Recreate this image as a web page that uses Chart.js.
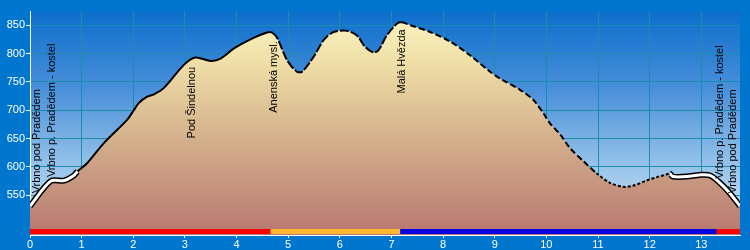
<!DOCTYPE html>
<html>
<head>
<meta charset="utf-8">
<script src="https://cdn.jsdelivr.net/npm/chart.js@4/dist/chart.umd.min.js"></script>
<style>
html,body{margin:0;padding:0;background:#0076ce;}
#c{display:block;}
</style>
</head>
<body>
<canvas id="c" width="750" height="250"></canvas>
<script>
// ---- data ----
const distanceKm = [0, 0.4, 0.66, 0.85, 0.92, 1.11, 1.43, 1.88, 2.01, 2.11, 2.27, 2.4, 2.59, 2.98, 3.2, 3.5, 3.69, 3.95, 4.27, 4.59, 4.69, 4.79, 4.98, 5.17, 5.27, 5.49, 5.69, 5.88, 6.14, 6.33, 6.49, 6.65, 6.75, 6.91, 7.11, 7.2, 7.36, 7.75, 8.14, 8.52, 8.91, 9.1, 9.49, 9.75, 9.94, 10.07, 10.27, 10.46, 10.72, 10.97, 11.23, 11.49, 11.68, 11.94, 12.14, 12.3, 12.39, 12.45, 12.72, 12.97, 13.17, 13.36, 13.55, 13.75];
const elevationM = [531, 575, 576, 585, 592, 607, 642, 683, 700, 713, 724, 728, 739, 780, 793, 787, 791, 809, 825, 837, 837, 827, 788, 768, 768, 794, 824, 838, 840, 832, 812, 802, 806, 832, 853, 855, 850, 838, 821, 797, 768, 756, 736, 718, 695, 677, 657, 633, 610, 589, 572, 565, 567, 576, 582, 586, 588, 583, 583, 586, 585, 572, 554, 531];

// path line style sections (start km, style)
const styleStartKm = [0, 0.92, 4.66, 7.17, 10.97, 12.36];
const styleName = ['town', 'solid', 'longdash', 'dash', 'dot', 'town'];

// coloured route bar sections
const barFromKm = [0, 4.66, 7.17, 13.3];
const barToKm = [4.66, 7.17, 13.3, 13.75];
const barColor = ['#ff0000', '#ffb830', '#0000e0', '#ff0000'];

// waypoint labels
const placeNames = ['Vrbno pod Pradědem', 'Vrbno p. Pradědem - kostel', 'Pod Šindelnou', 'Anenská mysl.', 'Malá Hvězda', 'Vrbno p. Pradědem - kostel', 'Vrbno pod Pradědem'];
const placeKm = [0.14, 0.42, 3.13, 4.72, 7.2, 13.36, 13.62];

// axis ticks
const xTicks = [0,1,2,3,4,5,6,7,8,9,10,11,12,13];
const yTicks = [550,600,650,700,750,800,850];
const xMin = 0, xMax = 13.75, yMin = 480, yMax = 875;

// ---- helpers ----
const points = distanceKm.map((d, i) => ({x: d, y: elevationM[i]}));
function styleAt(km){
  let s = styleName[0];
  for (let i = 0; i < styleStartKm.length; i++) if (km >= styleStartKm[i] - 1e-9) s = styleName[i];
  return s;
}
function elevAt(km){
  for (let i = 0; i < distanceKm.length - 1; i++) {
    if (km >= distanceKm[i] && km <= distanceKm[i+1]) {
      const t = (km - distanceKm[i]) / (distanceKm[i+1] - distanceKm[i]);
      return elevationM[i] + t * (elevationM[i+1] - elevationM[i]);
    }
  }
  return elevationM[elevationM.length-1];
}
const dashes = {town: [], solid: [], longdash: [9, 2], dash: [6, 3], dot: [3, 2]};

const bgPlugin = {
  id: 'bg',
  beforeDraw(chart){
    const c = chart.ctx, a = chart.chartArea;
    c.save();
    c.fillStyle = '#0076ce';
    c.fillRect(0, 0, chart.width, chart.height);
    const g = c.createLinearGradient(0, a.top, 0, a.bottom);
    g.addColorStop(0, '#0c6ecb');
    g.addColorStop(0.35, '#4a90da');
    g.addColorStop(0.7, '#98c4ea');
    g.addColorStop(1, '#d6e8f6');
    c.fillStyle = g;
    c.fillRect(a.left, a.top, a.right - a.left, a.bottom - a.top);
    c.restore();
  }
};

const overlayPlugin = {
  id: 'overlay',
  afterDatasetsDraw(chart){
    const c = chart.ctx, a = chart.chartArea;
    const xs = chart.scales.x, ys = chart.scales.y;
    c.save();
    // route bar
    for (let i = 0; i < barFromKm.length; i++) {
      const x0 = xs.getPixelForValue(barFromKm[i]);
      const x1 = xs.getPixelForValue(barToKm[i]);
      c.fillStyle = barColor[i];
      c.fillRect(x0, a.bottom - 6, x1 - x0, 5);
    }
    // labels
    c.font = '11px "Liberation Sans", Arial, sans-serif';
    c.fillStyle = '#000';
    c.textBaseline = 'middle';
    for (let i = 0; i < placeNames.length; i++) {
      const x = xs.getPixelForValue(placeKm[i]);
      const yp = ys.getPixelForValue(elevAt(placeKm[i]));
      const w = c.measureText(placeNames[i]).width;
      c.save();
      if (yp - 4 - w >= a.top + 2) {
        c.translate(x, yp - 4);
        c.rotate(-Math.PI / 2);
        c.textAlign = 'left';
      } else {
        c.translate(x, yp + 7);
        c.rotate(-Math.PI / 2);
        c.textAlign = 'right';
      }
      c.fillText(placeNames[i], 0, 0);
      c.restore();
    }
    c.restore();
  }
};

new Chart(document.getElementById('c'), {
  type: 'line',
  data: {
    datasets: [
      {
        data: points,
        order: 1,
        fill: false,
        pointRadius: 0,
        tension: 0.3,
        borderColor: '#fff',
        borderWidth: 3,
        segment: {
          borderColor: (ctx) => styleAt(ctx.p0.parsed.x) === 'town' ? '#fff' : 'rgba(0,0,0,0)'
        }
      },
      {
        data: points,
        order: 2,
        fill: false,
        pointRadius: 0,
        tension: 0.3,
        borderColor: '#000',
        borderWidth: 2,
        segment: {
          borderWidth: (ctx) => styleAt(ctx.p0.parsed.x) === 'town' ? 6 : 2,
          borderDash: (ctx) => dashes[styleAt(ctx.p0.parsed.x)]
        }
      },
      {
        data: points,
        order: 3,
        fill: 'start',
        borderWidth: 0,
        pointRadius: 0,
        tension: 0.3,
        backgroundColor: (ctx) => {
          const a = ctx.chart.chartArea;
          if (!a) return '#e0c8a0';
          const g = ctx.chart.ctx.createLinearGradient(0, a.top, 0, a.bottom);
          g.addColorStop(0, '#fbf6c4');
          g.addColorStop(0.22, '#f0e0a8');
          g.addColorStop(0.51, '#d8b890');
          g.addColorStop(0.75, '#c89880');
          g.addColorStop(1, '#b87870');
          return g;
        }
      }
    ]
  },
  options: {
    responsive: false,
    animation: false,
    devicePixelRatio: 1,
    layout: {padding: {top: 11, right: 10, left: 0, bottom: 0}},
    plugins: {legend: {display: false}, tooltip: {enabled: false}},
    scales: {
      x: {
        type: 'linear',
        min: xMin, max: xMax,
        afterFit: (s) => { s.height = 15; },
        afterBuildTicks: (s) => { s.ticks = xTicks.map(v => ({value: v})); },
        grid: {color: '#1a8cb0', tickColor: '#fff', tickLength: 3, lineWidth: 1},
        border: {color: '#fff', width: 1},
        ticks: {color: '#fff', padding: 0, maxRotation: 0, autoSkip: false,
          font: {family: '"Liberation Sans", Arial, sans-serif', size: 11}}
      },
      y: {
        type: 'linear',
        min: yMin, max: yMax,
        afterFit: (s) => { s.width = 30; },
        afterBuildTicks: (s) => { s.ticks = yTicks.map(v => ({value: v})); },
        grid: {color: '#1a8cb0', tickColor: '#fff', tickLength: 4, lineWidth: 1},
        border: {color: '#fff', width: 1},
        ticks: {color: '#fff', padding: 1,
          font: {family: '"Liberation Sans", Arial, sans-serif', size: 11}}
      }
    }
  },
  plugins: [bgPlugin, overlayPlugin]
});
</script>
</body>
</html>
